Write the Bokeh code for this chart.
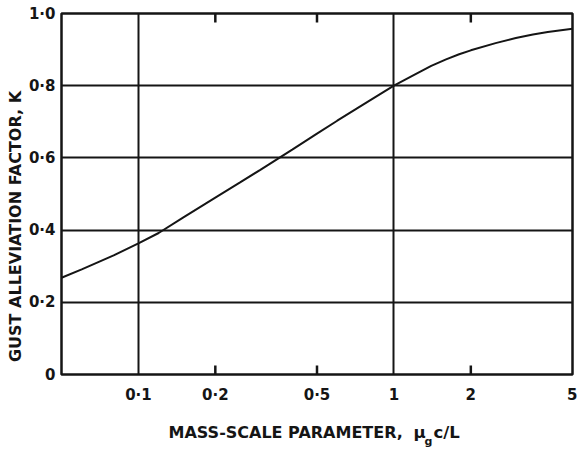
import numpy as np
from bokeh.plotting import figure
from bokeh.models import FixedTicker, Label
from bokeh.layouts import row, column
from bokeh.embed import file_html
from bokeh.resources import INLINE

# Gust alleviation factor K against mass-scale parameter
mu = [0.05, 0.06, 0.07, 0.08, 0.1, 0.12, 0.15, 0.2, 0.25, 0.3, 0.4, 0.5,
      0.6, 0.8, 1.0, 1.2, 1.4, 1.6, 1.8, 2.0, 2.5, 3.0, 3.5, 4.0, 5.0]
K = [0.268, 0.291, 0.312, 0.330, 0.363, 0.392, 0.435, 0.49, 0.532, 0.567,
     0.623, 0.667, 0.703, 0.758, 0.800, 0.830, 0.855, 0.873, 0.887, 0.898,
     0.918, 0.932, 0.942, 0.949, 0.958]

x_ticks = [0.1, 0.2, 0.5, 1, 2, 5]
x_tick_labels = ["0·1", "0·2", "0·5", "1", "2", "5"]
y_ticks = [0, 0.2, 0.4, 0.6, 0.8, 1.0]
y_tick_labels = ["0", "0·2", "0·4", "0·6", "0·8", "1·0"]
x_grid = [0.1, 1]
y_grid = [0.2, 0.4, 0.6, 0.8]
inner_ticks = [0.2, 0.5, 2.0]

X_MIN, X_MAX = 0.05, 5
Y_MIN, Y_MAX = 0.0, 1.0

FONT = "DejaVu Sans"
INK = "#151515"
LEFT_W = 24          # strip holding the vertical axis title
MAIN_H = 412         # main chart height; the x title strip sits below
FRAME_L, FRAME_T, FRAME_B = 61, 13, 374
FRAME_H = FRAME_B - FRAME_T
TICK_LEN = 9         # pixels
tick_h = TICK_LEN / FRAME_H * (Y_MAX - Y_MIN)


def blank(width, height):
    f = figure(width=width, height=height, output_backend="svg",
               toolbar_location=None, x_axis_location=None,
               y_axis_location=None, min_border=0)
    f.outline_line_color = None
    f.grid.visible = False
    f.background_fill_color = "white"
    f.border_fill_color = "white"
    return f


p = figure(width=577 - LEFT_W, height=MAIN_H, x_axis_type="log",
           x_range=(X_MIN, X_MAX), y_range=(Y_MIN, Y_MAX),
           output_backend="svg", toolbar_location=None,
           min_border_left=FRAME_L - LEFT_W, min_border_right=5,
           min_border_top=FRAME_T, min_border_bottom=MAIN_H - FRAME_B)
p.background_fill_color = "white"
p.border_fill_color = "white"
p.outline_line_color = INK
p.outline_line_width = 2.5

tick_font = dict(major_label_text_font=FONT, major_label_text_font_style="bold",
                 major_label_text_font_size="15px", major_label_text_color=INK)

for ax in (p.xaxis[0], p.yaxis[0]):
    ax.axis_line_color = None
    ax.major_tick_line_color = None
    ax.minor_tick_line_color = None
    ax.major_tick_in = 0
    ax.major_tick_out = 0
    ax.minor_tick_in = 0
    ax.minor_tick_out = 0
    ax.update(**tick_font)

xa = p.xaxis[0]
xa.ticker = FixedTicker(ticks=x_ticks, minor_ticks=[])
xa.major_label_overrides = {t: s for t, s in zip(x_ticks, x_tick_labels)}
xa.major_label_standoff = 11

ya = p.yaxis[0]
ya.ticker = FixedTicker(ticks=y_ticks, minor_ticks=[])
ya.major_label_overrides = {t: s for t, s in zip(y_ticks, y_tick_labels)}
ya.major_label_standoff = 6

p.xgrid.ticker = FixedTicker(ticks=x_grid, minor_ticks=[])
p.ygrid.ticker = FixedTicker(ticks=y_grid, minor_ticks=[])
for g in (p.xgrid[0], p.ygrid[0]):
    g.grid_line_color = INK
    g.grid_line_width = 2
    g.grid_line_alpha = 1.0

# short inward ticks on the bottom and top frame edges
tick_xs, tick_ys = [], []
for t in inner_ticks:
    tick_xs += [[t, t], [t, t]]
    tick_ys += [[Y_MIN, Y_MIN + tick_h], [Y_MAX - tick_h, Y_MAX]]
p.multi_line(xs=tick_xs, ys=tick_ys, line_color=INK, line_width=2.5)

p.line(mu, K, line_color=INK, line_width=2)

title_kw = dict(x_units="screen", y_units="screen", text_font=FONT,
                text_font_style="bold", text_color=INK)

# vertical axis title
left = blank(LEFT_W, 449)
left.add_layout(Label(x=15, y=223, angle=np.pi / 2,
                      text="GUST ALLEVIATION FACTOR, K", text_font_size="16px",
                      text_align="center", text_baseline="middle", **title_kw))

# horizontal axis title, with subscript g on the mass parameter
# (this strip's frame lines up with the chart frame, so x counts from FRAME_L)
bottom = blank(577 - LEFT_W, 449 - MAIN_H)
bottom.add_layout(Label(x=107, y=17, text="MASS-SCALE PARAMETER,",
                        text_font_size="16px", text_baseline="alphabetic",
                        **title_kw))
bottom.add_layout(Label(x=352, y=17, text="μ", text_font_size="16.5px",
                        text_baseline="alphabetic", **title_kw))
bottom.add_layout(Label(x=363, y=8, text="g", text_font_size="11px",
                        text_baseline="alphabetic", **title_kw))
bottom.add_layout(Label(x=372, y=17, text="c/L", text_font_size="16.5px",
                        text_baseline="alphabetic", **title_kw))

layout = row(left, column(p, bottom))
open("out.html", "w").write(file_html(layout, INLINE))
